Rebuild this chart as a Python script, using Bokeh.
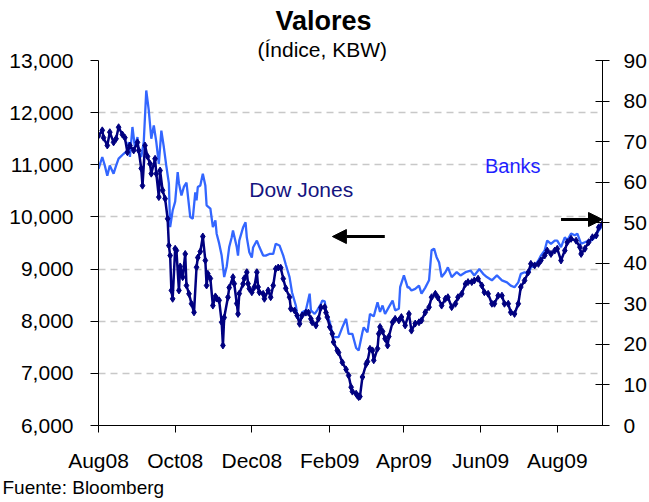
from datetime import date
from bokeh.plotting import figure
from bokeh.models import (Range1d, LinearAxis, FixedTicker, NumeralTickFormatter,
                          Label, Arrow, NormalHead, Title)
from bokeh.embed import file_html
from bokeh.resources import INLINE

# ---------------- data ----------------
start_date = date(2008, 8, 1)
end_date = date(2009, 9, 6)
tick_dates = [date(2008, 8, 1), date(2008, 10, 1), date(2008, 12, 1), date(2009, 2, 1),
              date(2009, 4, 1), date(2009, 6, 1), date(2009, 8, 1)]
tick_labels = ["Aug08", "Oct08", "Dec08", "Feb09", "Apr09", "Jun09", "Aug09"]

# days since 1 Aug 2008
dow_days = [0, 3, 4, 7, 9, 12, 14, 16, 19, 21,
            23, 25, 28, 31, 32, 34, 35, 37, 39, 41,
            42, 45, 46, 48, 49, 51, 53, 55, 56, 57,
            58, 59, 61, 62, 64, 65, 67, 69, 70, 72,
            74, 76, 78, 79, 81, 83, 85, 86, 87, 89,
            91, 93, 94, 96, 98, 99, 100, 103, 104, 107,
            108, 110, 111, 112, 115, 116, 118, 119, 120, 122,
            124, 126, 127, 128, 131, 132, 135, 137, 139, 141,
            143, 145, 147, 149, 152, 153, 156, 158, 160, 162,
            165, 167, 169, 170, 173, 175, 177, 180, 181, 182,
            184, 186, 187, 190, 191, 194, 197, 199, 201, 202,
            205, 206, 207, 208, 210, 213, 214, 216, 218, 219,
            222, 223, 224, 226, 228, 230, 231, 234, 236, 239,
            241, 244, 247, 249, 252, 255, 257, 260, 263, 265,
            268, 270, 273, 276, 278, 281, 284, 286, 289, 292,
            294, 297, 299, 302, 305, 307, 310, 313, 315, 318,
            321, 323, 326, 328, 331, 334, 336, 339, 342, 344,
            347, 350, 352, 355, 357, 360, 363, 365, 368, 371,
            373, 376, 380, 383, 384, 387, 390, 393, 396, 398,
            401]
dow_values = [11560, 11660, 11520, 11370, 11625, 11430, 11500, 11720, 11580, 11520,
              11240, 11370, 11275, 11430, 11275, 10930, 10600, 11370, 11160, 11020,
              10830, 11115, 10830, 10380, 10890, 10510, 10350, 9965, 9450, 9260,
              8590, 8430, 9390, 9355, 8590, 9050, 8845, 9290, 8685, 8525,
              8335, 8170, 9035, 9220, 9335, 9625, 9165, 8685, 8910, 8820,
              8300, 8475, 8435, 8400, 7980, 7535, 8070, 8460, 8645, 8845,
              8720, 8340, 8140, 8530, 8715, 8820, 8940, 8720, 8625, 8555,
              8655, 8940, 8655, 8555, 8525, 8430, 8590, 8460, 8685, 9005,
              9030, 9025, 8815, 8630, 8460, 8240, 8205, 8110, 7950, 8110,
              8165, 8165, 8045, 7980, 7920, 8050, 8265, 8270, 8165, 8080,
              7890, 7760, 7600, 7440, 7400, 7210, 7075, 6960, 6735, 6650,
              6610, 6575, 6545, 6555, 6930, 7180, 7225, 7470, 7440, 7250,
              7475, 7760, 7890, 7805, 7665, 7535, 7705, 7980, 8045, 8015,
              8080, 7920, 8140, 7820, 7955, 7980, 8015, 8170, 8270, 8460,
              8525, 8455, 8300, 8430, 8460, 8270, 8335, 8460, 8525, 8715,
              8750, 8750, 8780, 8815, 8685, 8555, 8525, 8335, 8335, 8490,
              8490, 8335, 8335, 8170, 8140, 8335, 8655, 8780, 8940, 9100,
              9070, 9100, 9165, 9260, 9355, 9290, 9355, 9390, 9165, 9355,
              9515, 9580, 9545, 9420, 9290, 9390, 9515, 9610, 9645, 9800,
              9870]

bank_days = [0, 3, 5, 7, 9, 12, 14, 16, 20, 23,
             24, 25, 27, 29, 31, 32, 34, 36, 38, 40,
             42, 44, 46, 48, 50, 52, 54, 56, 57, 59,
             61, 63, 64, 66, 68, 70, 72, 73, 75, 77,
             78, 79, 81, 83, 85, 86, 89, 91, 93, 94,
             96, 98, 100, 102, 104, 106, 107, 110, 111, 112,
             115, 117, 118, 120, 122, 123, 126, 128, 131, 133,
             136, 139, 141, 144, 147, 149, 152, 154, 157, 158,
             160, 162, 165, 168, 169, 172, 174, 177, 178, 180,
             181, 184, 186, 187, 191, 194, 197, 199, 202, 205,
             207, 210, 211, 214, 216, 219, 222, 224, 226, 228,
             231, 234, 236, 239, 240, 243, 246, 247, 249, 252,
             255, 257, 260, 263, 265, 267, 269, 271, 273, 276,
             278, 281, 285, 288, 292, 296, 299, 303, 306, 309,
             313, 317, 321, 325, 328, 331, 334, 336, 339, 342,
             344, 347, 350, 352, 355, 357, 360, 363, 365, 368,
             371, 373, 376, 379, 381, 384, 387, 390, 392, 395,
             398, 401]
bank_values = [63.3, 66.2, 64.1, 61.6, 64.1, 62.1, 64.1, 65.8, 67.0, 67.8,
               69.9, 66.2, 73.6, 68.6, 71.1, 67.3, 66.2, 69.9, 82.6, 77.7,
               70.7, 74.0, 69.9, 64.5, 72.7, 68.6, 63.9, 59.7, 48.9, 53.0,
               55.2, 62.5, 59.7, 56.7, 58.9, 59.9, 54.2, 51.4, 51.0, 57.5,
               55.5, 58.8, 59.2, 62.1, 59.2, 54.3, 53.5, 48.9, 50.6, 47.3,
               44.9, 41.9, 36.6, 39.2, 44.0, 46.4, 48.1, 44.0, 41.9, 45.6,
               48.8, 50.1, 46.4, 42.7, 41.4, 43.9, 45.6, 44.0, 41.9, 41.9,
               42.3, 42.3, 44.8, 44.4, 41.9, 39.7, 36.6, 32.8, 29.6, 27.6,
               25.5, 27.9, 28.4, 32.5, 28.4, 27.5, 28.4, 30.0, 30.8, 30.6,
               28.4, 25.5, 22.9, 21.8, 21.8, 24.2, 26.3, 22.6, 22.6, 19.1,
               18.5, 23.0, 24.2, 23.0, 27.5, 26.9, 30.4, 28.0, 29.6, 27.5,
               29.2, 30.8, 28.4, 28.8, 34.1, 37.0, 34.0, 34.1, 33.3, 33.7,
               34.5, 32.5, 34.0, 35.8, 43.2, 43.6, 41.5, 40.2, 36.6, 37.8,
               39.0, 36.6, 37.8, 37.0, 37.8, 38.2, 37.0, 38.6, 37.4, 36.6,
               35.8, 37.0, 35.8, 35.3, 34.5, 34.1, 35.3, 37.4, 37.8, 37.4,
               39.0, 39.4, 40.7, 41.9, 43.2, 45.6, 44.8, 45.6, 45.6, 44.0,
               46.4, 45.6, 47.3, 46.9, 47.3, 44.8, 45.2, 45.6, 45.6, 46.4,
               48.1, 49.3]

dow_ticks = [6000, 7000, 8000, 9000, 10000, 11000, 12000, 13000]
bank_ticks = [0, 10, 20, 30, 40, 50, 60, 70, 80, 90]

title_text = "Valores"
subtitle_text = "(Índice, KBW)"
source_text = "Fuente: Bloomberg"
dow_name = "Dow Jones"
bank_name = "Banks"

# ---------------- figure ----------------
FONT = "Liberation Sans"
DOW_COLOR = "#000080"
BANK_COLOR = "#3366FF"

tick_pos = [(d - start_date).days for d in tick_dates]
x_max = (end_date - start_date).days

p = figure(width=649, height=502, output_backend="svg", toolbar_location=None,
           x_range=Range1d(0, x_max), y_range=Range1d(6000, 13000),
           min_border_left=98, min_border_right=44, min_border_top=60,
           min_border_bottom=77)
p.outline_line_color = None
p.background_fill_color = "white"
p.border_fill_color = "white"
p.extra_y_ranges = {"banks": Range1d(0, 90)}

# titles (subtitle first: closest to the frame)
p.add_layout(Title(text=subtitle_text, align="left", offset=159, standoff=0,
                   text_font=FONT, text_font_size="21px", text_font_style="normal",
                   text_color="black"), "above")
p.add_layout(Title(text=title_text, align="left", offset=177, standoff=0,
                   text_font=FONT, text_font_size="27px", text_font_style="bold",
                   text_color="black"), "above")

# grid
p.xgrid.grid_line_color = None
p.ygrid.ticker = FixedTicker(ticks=dow_ticks)
p.ygrid.grid_line_color = "#c8c8c8"
p.ygrid.grid_line_dash = "7 5"
p.ygrid.grid_line_width = 1.5

# x axis
xa = p.xaxis[0]
xa.ticker = FixedTicker(ticks=tick_pos)
xa.major_label_overrides = {t: lab for t, lab in zip(tick_pos, tick_labels)}
xa.minor_tick_line_color = None
xa.major_tick_in = 0
xa.major_tick_out = 7
xa.axis_line_color = "black"
xa.major_tick_line_color = "black"
xa.major_label_text_font = FONT
xa.major_label_text_font_size = "21px"
xa.major_label_text_color = "black"
xa.major_label_standoff = 16

# source note below the axis
p.add_layout(Title(text=source_text, align="left", offset=-96, standoff=0,
                   text_font=FONT, text_font_size="19px", text_font_style="normal",
                   text_color="black"), "below")

# left axis
ya = p.yaxis[0]
ya.ticker = FixedTicker(ticks=dow_ticks)
ya.formatter = NumeralTickFormatter(format="0,0")
ya.minor_tick_line_color = None
ya.major_tick_in = 0
ya.major_tick_out = 8
ya.axis_line_color = "black"
ya.major_tick_line_color = "black"
ya.major_label_text_font = FONT
ya.major_label_text_font_size = "21px"
ya.major_label_text_color = "black"
ya.major_label_standoff = 17

# right axis
ra = LinearAxis(y_range_name="banks", ticker=FixedTicker(ticks=bank_ticks))
ra.minor_tick_line_color = None
ra.major_tick_in = 7
ra.major_tick_out = 7
ra.axis_line_color = "black"
ra.major_tick_line_color = "black"
ra.major_label_text_font = FONT
ra.major_label_text_font_size = "21px"
ra.major_label_text_color = "black"
ra.major_label_standoff = 14
p.add_layout(ra, "right")

# series
p.line(bank_days, bank_values, y_range_name="banks", line_color=BANK_COLOR,
       line_width=2.3)
p.line(dow_days, dow_values, line_color=DOW_COLOR, line_width=2.5)
p.scatter(dow_days, dow_values, marker="diamond", size=7, fill_color=DOW_COLOR,
          line_color=DOW_COLOR)

# texts inside the plot
p.add_layout(Label(x=120, y=10520, text=dow_name, text_font=FONT,
                   text_font_size="21px", text_color="#14147f",
                   text_baseline="middle", text_align="left"))
p.add_layout(Label(x=307.5, y=64.1, y_range_name="banks", text=bank_name,
                   text_font=FONT, text_font_size="20px", text_color="#1f1fff",
                   text_baseline="middle", text_align="left"))

# arrows
p.add_layout(Arrow(end=NormalHead(size=14, fill_color="black", line_color="black"),
                   x_start=227.8, y_start=9624, x_end=186.1, y_end=9624,
                   line_color="black", line_width=3))
p.add_layout(Arrow(end=NormalHead(size=14, fill_color="black", line_color="black"),
                   x_start=368, y_start=50.8, x_end=x_max, y_end=50.8,
                   y_range_name="banks", line_color="black", line_width=3))

open("out.html", "w").write(file_html(p, INLINE))
